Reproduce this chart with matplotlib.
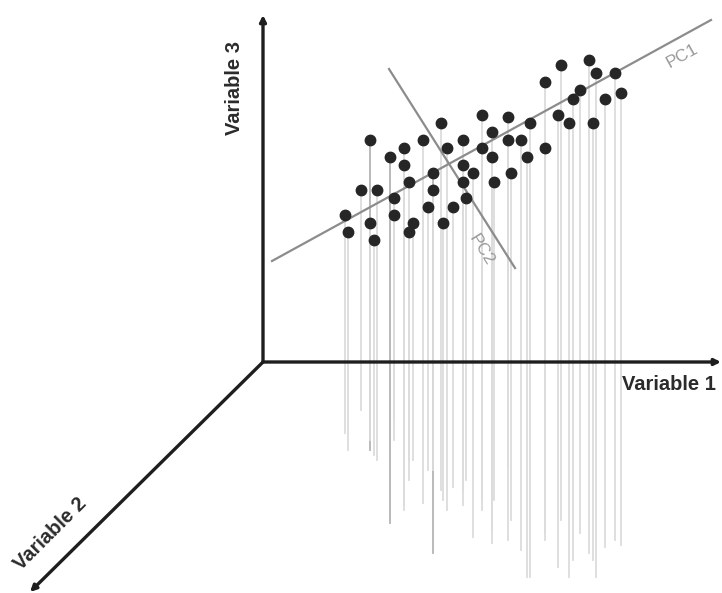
import matplotlib.pyplot as plt

plt.rcParams['font.family'] = ['Liberation Sans', 'DejaVu Sans']

# 数据点：Variable 1 方向位置、Variable 3 高度、落到底面的位置（Variable 2 深度）
var1 = [10.7, 12.7, 14.1, 14.1, 16.0, 17.8, 18.4, 20.0, 21.9, 24.5,
        22.9, 21.9, 22.9, 24.5, 25.8, 26.7, 26.4, 28.2, 28.2, 29.8,
        32.6, 33.3, 35.2, 35.8, 34.2, 31.7, 31.0, 29.5, 30.6, 33.0,
        24.8, 23.1, 20.0, 21.0, 20.0, 20.3, 19.0, 18.0, 17.0, 17.0,
        16.5, 14.6, 13.1, 13.1, 15.0, 14.6, 11.4, 9.8, 8.2, 8.5,
        10.7, 11.1]
var3 = [22.2, 20.5, 21.4, 19.7, 22.2, 23.9, 21.4, 22.2, 24.7, 24.5,
        23.0, 21.4, 20.5, 22.2, 22.2, 23.9, 20.5, 21.4, 28.0, 29.7,
        30.2, 28.9, 28.9, 26.9, 26.3, 27.2, 26.3, 24.7, 23.9, 23.9,
        18.9, 18.0, 19.7, 18.9, 18.0, 16.4, 15.5, 13.9, 18.9, 17.2,
        15.5, 18.0, 16.4, 14.7, 13.9, 13.0, 17.2, 17.2, 14.7, 13.0,
        13.9, 12.2]
floor = [-8.8, -16.1, -14.8, -14.3, -14.1, -12.8, -14.8, -14.3, -14.8, -10.5,
         -18.1, -13.8, -16.8, -17.8, -18.8, -21.5, -21.5, -17.1, -17.8, -15.8,
         -19.1, -21.5, -17.8, -18.3, -18.5, -17.1, -19.8, -20.5, -21.5, -19.8,
         -15.8, -13.8, -12.8, -17.5, -12.5, -11.8, -12.5, -13.8, -19.1, -10.8,
         -10.8, -9.8, -5.8, -7.8, -9.8, -11.8, -9.8, -4.8, -7.1, -8.8,
         -7.8, -9.3]
dark_stems = [0, 1, 38]

# 主成分方向线
pc1_x = [0.9, 44.8]
pc1_y = [10.1, 34.2]
pc2_x = [12.6, 25.2]
pc2_y = [29.3, 9.4]

fig = plt.figure(figsize=(7.22, 5.93), dpi=100)
ax = fig.add_axes([0, 0, 1, 1])
ax.set_xlim(-26.3, 45.9)
ax.set_ylim(-23.1, 36.2)
ax.axis('off')

# 垂线
for i, (x, y, f) in enumerate(zip(var1, var3, floor)):
    c = '#b4b4b4' if i in dark_stems else '#dcdcdc'
    ax.plot([x, x], [y, f], color=c, lw=1.3, zorder=1)

# 坐标轴
axis_color = '#1e1e1e'
arrow = dict(arrowstyle='-|>', lw=2.4, color=axis_color, mutation_scale=9,
             shrinkA=0, shrinkB=0)
ax.annotate('', xy=(0, 34.7), xytext=(0, 0), arrowprops=arrow, zorder=3)
ax.annotate('', xy=(45.8, 0), xytext=(0, 0), arrowprops=arrow, zorder=3)
ax.annotate('', xy=(-23.3, -23.0), xytext=(0, 0), arrowprops=arrow, zorder=3)

ax.text(-2.8, 27.4, 'Variable 3', rotation=90, ha='center', va='center',
        fontsize=14.5, fontweight='bold', color='#2b2b2b')
ax.text(40.6, -2.2, 'Variable 1', ha='center', va='center',
        fontsize=14.5, fontweight='bold', color='#2b2b2b')
ax.text(-21.3, -17.2, 'Variable 2', rotation=45, ha='center', va='center',
        fontsize=14.5, fontweight='bold', color='#2b2b2b')

# PC 线
ax.plot(pc1_x, pc1_y, color='#8c8c8c', lw=1.6, zorder=2)
ax.plot(pc2_x, pc2_y, color='#8c8c8c', lw=1.6, zorder=2)
ax.text(41.9, 30.6, 'PC1', rotation=29, ha='center', va='center',
        fontsize=12.5, color='#9a9a9a')
ax.text(21.8, 11.2, 'PC2', rotation=-58, ha='center', va='center',
        fontsize=12.5, color='#9a9a9a')

# 数据点
ax.plot(var1, var3, 'o', color='#262626', markersize=7.5, zorder=4)

plt.savefig('out.png', dpi=100)
